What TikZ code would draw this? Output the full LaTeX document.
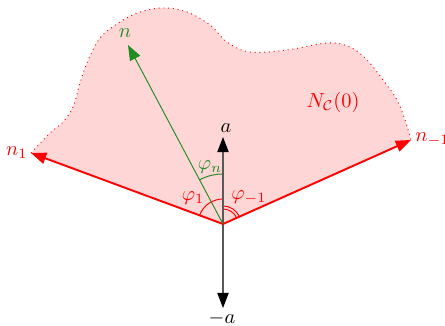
\documentclass[tikz,border=0pt]{standalone}
\usetikzlibrary{arrows.meta,calc}
\definecolor{fgreen}{RGB}{34,139,34}
\definecolor{conefill}{RGB}{255,214,214}
\tikzset{
  tip/.style={-{Triangle[length=8pt,width=6pt]}},
  redvec/.style={tip, draw=red, line width=1pt},
  greenvec/.style={tip, draw=fgreen, line width=0.5pt},
  axisvec/.style={{Triangle[length=8pt,width=6pt,color=black]}-{Triangle[length=8pt,width=6pt,color=black]}, draw=black!65, line width=0.6pt},
  lbl/.style={inner sep=1pt, scale=1.07},
  redlbl/.style={lbl, text=red},
  greenlbl/.style={lbl, text=fgreen},
  blacklbl/.style={lbl, text=black},
  bound/.style={draw=red, dotted, line width=0.5pt},
}
\begin{document}
\begin{tikzpicture}[x=0.5258pt, y=-0.5258pt]
\useasboundingbox (0,0) rectangle (445,326);
\coordinate (O) at (223,224);
\coordinate (n1) at (31,153);
\coordinate (nm1) at (411,140);
\coordinate (n) at (128,45);
\coordinate (a) at (223,137);
\coordinate (ma) at (223,308);
% cone region
\fill[conefill] (O) -- (n1) -- plot[smooth, tension=0.6] coordinates {(31,153) (50,133) (63,122) (73,107) (80,83) (87,63) (100,38) (120,22) (140,12) (163,8) (187,12) (210,25) (227,42) (250,52) (287,50) (327,43) (350,47) (367,60) (383,80) (397,100) (405,120) (411,140)} -- (nm1) -- cycle;
\draw[bound] plot[smooth, tension=0.6] coordinates {(31,153) (50,133) (63,122) (73,107) (80,83) (87,63) (100,38) (120,22) (140,12) (163,8) (187,12) (210,25) (227,42) (250,52) (287,50) (327,43) (350,47) (367,60) (383,80) (397,100) (405,120) (411,140)};
% angle arcs (y axis points down: screen angle t is -t here)
\draw[red, line width=0.5pt] ($(O)+(0,-25)$) arc[start angle=-90, end angle=-159.7, radius=25];
\draw[red, line width=0.5pt] ($(O)+(0,-15)$) arc[start angle=-90, end angle=-24, radius=15];
\draw[red, line width=0.5pt] ($(O)+(0,-18)$) arc[start angle=-90, end angle=-24, radius=18];
\draw[fgreen, line width=0.5pt] ($(O)+(0,-50)$) arc[start angle=-90, end angle=-117.95, radius=50];
% vectors
\draw[axisvec] (ma) -- (a);
\draw[redvec] (O) -- (n1);
\draw[redvec] (O) -- (nm1);
\draw[greenvec] (O) -- (n);
% labels
\node[redlbl, anchor=east] (ln1) at (30,153) {$n_1$};
\node[redlbl, anchor=west] (lnm1) at (413,139) {$n_{-1}$};
\node[greenlbl] (ln) at (125,33) {$n$};
\node[blacklbl] (la) at (226,128) {$a$};
\node[blacklbl] (lma) at (222,318) {$-a$};
\node[redlbl] (lN) at (333,102) {$N_{\mathcal{C}}(0)$};
\node[redlbl] (lp1) at (193,198) {$\varphi_1$};
\node[redlbl] (lpm1) at (249,197) {$\varphi_{-1}$};
\node[greenlbl] (lpn) at (210,167) {$\varphi_n$};
\end{tikzpicture}
\end{document}
